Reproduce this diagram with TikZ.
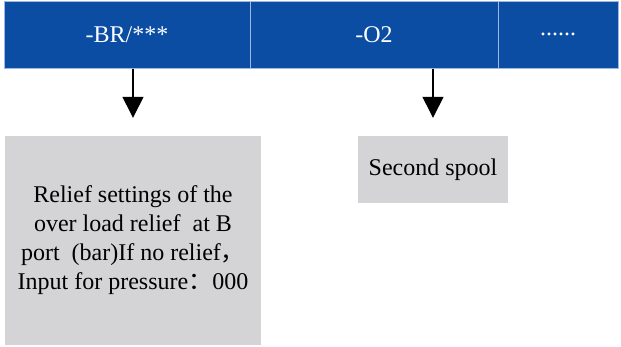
\documentclass[tikz,border=0pt]{standalone}
\usepackage{fontspec}
\setmainfont{Liberation Serif}
\newfontfamily\cjk{Noto Sans CJK SC}
\usetikzlibrary{positioning,arrows.meta}
\definecolor{barBlue}{HTML}{0A4DA3}
\definecolor{boxGray}{HTML}{D4D4D7}
\definecolor{sepBlue}{HTML}{9DB8E2}

\begin{document}
\begin{tikzpicture}[x=1pt,y=-1pt,font=\fontsize{24}{29}\selectfont,
      cell/.style={draw=sepBlue,line width=1pt,fill=barBlue,text=white,inner sep=0pt,minimum height=67pt},
      note/.style={fill=boxGray,align=center,inner sep=0pt},
      arr/.style={-{Triangle[length=21pt,width=21pt]},line width=1.3pt,shorten >=18pt}]
      \useasboundingbox (0,0) rectangle (621,346);
      \node[cell,minimum width=246pt] (br) at (127,34.5) {-BR/***};
      \node[cell,minimum width=248pt] (o2) at (374,34.5) {-O2};
      \node[cell,minimum width=120pt] (more) at (558,34.5) {......};
      \node[note,minimum width=256pt,minimum height=209pt] (relief) at (133,240.5)
        {Relief settings of the\\over load relief\ \ at B\\port\ \ (bar)If no relief{\cjk ，}\\Input for pressure{\cjk ：}000};
      \node[note,minimum width=150pt,minimum height=67pt] (spool) at (433,169.5) {Second spool};
      \draw[arr] (br.south -| relief.north) -- (relief.north);
      \draw[arr] (o2.south -| spool.north) -- (spool.north);
    \end{tikzpicture}
\end{document}
